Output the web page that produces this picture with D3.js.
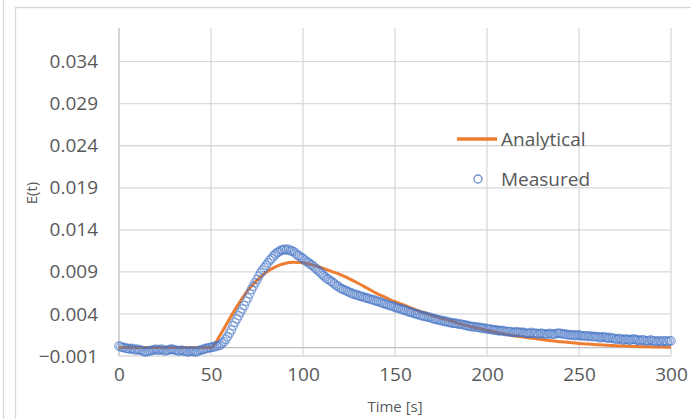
<!DOCTYPE html>
<html>
<head>
<meta charset="utf-8">
<script src="https://cdn.jsdelivr.net/npm/d3@7/dist/d3.min.js"></script>
<style>
    html, body { margin: 0; padding: 0; background: #fff; }
    svg text { font-family: "Open Sans", "Liberation Sans", sans-serif; fill: #595959; }
</style>
</head>
<body>
<div id="chart"></div>
<script>
// 数据 (E(t) 以 0.001 为单位记录)
const xTicks = [0, 50, 100, 150, 200, 250, 300];
const yTicks = [-0.001, 0.004, 0.009, 0.014, 0.019, 0.024, 0.029, 0.034];

// 测量值: t = 0..300 s, 每秒一个点
const measuredTime = d3.range(0, 301);
const measuredMilli = [
    0.2, 0.1, 0.0, 0.0, -0.1, -0.1, -0.2, -0.1, -0.2, -0.3,
    -0.2, -0.3, -0.3, -0.4, -0.5, -0.5, -0.4, -0.4, -0.3, -0.3,
    -0.2, -0.3, -0.3, -0.2, -0.3, -0.4, -0.3, -0.3, -0.2, -0.2,
    -0.3, -0.3, -0.4, -0.4, -0.3, -0.4, -0.4, -0.5, -0.5, -0.4,
    -0.4, -0.5, -0.5, -0.4, -0.3, -0.3, -0.2, -0.1, -0.1, 0.0,
    0.0, 0.1, 0.1, 0.2, 0.2, 0.3, 0.5, 0.7, 1.0, 1.3,
    1.7, 2.1, 2.6, 3.0, 3.4, 3.8, 4.2, 4.6, 5.0, 5.5,
    5.9, 6.4, 6.9, 7.3, 7.7, 8.1, 8.5, 8.9, 9.2, 9.5,
    9.8, 10.1, 10.4, 10.6, 10.9, 11.1, 11.3, 11.4, 11.6, 11.6,
    11.7, 11.6, 11.7, 11.5, 11.5, 11.4, 11.2, 11.0, 10.9, 10.7,
    10.6, 10.4, 10.2, 10.1, 9.9, 9.8, 9.6, 9.4, 9.2, 9.0,
    8.8, 8.6, 8.4, 8.2, 8.1, 7.9, 7.8, 7.6, 7.4, 7.3,
    7.1, 7.0, 6.9, 6.8, 6.7, 6.6, 6.5, 6.4, 6.3, 6.3,
    6.2, 6.1, 6.1, 6.0, 5.9, 5.9, 5.8, 5.7, 5.7, 5.6,
    5.5, 5.5, 5.4, 5.3, 5.2, 5.2, 5.1, 5.0, 5.0, 4.9,
    4.8, 4.7, 4.7, 4.6, 4.5, 4.5, 4.4, 4.3, 4.2, 4.2,
    4.1, 4.0, 4.0, 3.9, 3.8, 3.8, 3.7, 3.7, 3.6, 3.6,
    3.5, 3.4, 3.4, 3.3, 3.3, 3.2, 3.2, 3.1, 3.1, 3.0,
    3.0, 2.9, 2.9, 2.9, 2.8, 2.8, 2.8, 2.7, 2.7, 2.6,
    2.6, 2.5, 2.5, 2.5, 2.4, 2.4, 2.4, 2.3, 2.3, 2.3,
    2.2, 2.2, 2.2, 2.1, 2.1, 2.1, 2.0, 2.0, 2.0, 2.0,
    1.9, 1.9, 1.9, 1.9, 1.8, 1.8, 1.9, 1.8, 1.8, 1.8,
    1.8, 1.7, 1.7, 1.7, 1.8, 1.7, 1.7, 1.7, 1.6, 1.7,
    1.7, 1.6, 1.6, 1.6, 1.7, 1.6, 1.6, 1.6, 1.7, 1.7,
    1.7, 1.6, 1.6, 1.6, 1.5, 1.5, 1.5, 1.5, 1.4, 1.5,
    1.5, 1.4, 1.4, 1.4, 1.4, 1.3, 1.4, 1.3, 1.3, 1.3,
    1.3, 1.2, 1.2, 1.3, 1.2, 1.2, 1.1, 1.2, 1.1, 1.1,
    1.0, 1.0, 1.1, 1.0, 0.9, 1.0, 1.0, 0.9, 0.9, 1.0,
    1.0, 0.9, 0.9, 0.8, 0.9, 0.9, 0.8, 0.8, 0.8, 0.9,
    0.8, 0.8, 0.7, 0.8, 0.8, 0.7, 0.8, 0.8, 0.7, 0.8,
    0.8
];

// 解析解: 每 5 s 一个点
const analyticalTime = [
    0, 5, 10, 15, 20, 25, 30, 35, 40, 45, 50, 55, 60, 65, 70, 75, 80, 85, 90, 95,
    100, 105, 110, 115, 120, 125, 130, 135, 140, 145, 150, 155, 160, 165, 170, 175, 180, 185, 190, 195,
    200, 205, 210, 215, 220, 225, 230, 235, 240, 245, 250, 255, 260, 265, 270, 275, 280, 285, 290, 295, 300
];
const analyticalMilli = [
    0, 0, 0, 0, 0, 0, 0, 0, 0, 0, 0, 1.5, 3.4, 5.2, 6.8, 8.0, 8.95, 9.6, 10.0, 10.15,
    10.1, 9.85, 9.5, 9.1, 8.7, 8.2, 7.65, 7.05, 6.45, 5.95, 5.45, 5.05, 4.6, 4.2, 3.85, 3.5, 3.2, 2.85, 2.55, 2.3,
    2.05, 1.8, 1.6, 1.4, 1.25, 1.1, 0.95, 0.8, 0.7, 0.6, 0.5, 0.42, 0.35, 0.28, 0.23, 0.18, 0.14, 0.1, 0.08, 0.06, 0.05
];

const seriesNames = ['Analytical', 'Measured'];
const colors = { analytical: '#ED7D31', measured: '#4472C4', grid: '#d9d9d9', axis: '#bfbfbf' };

const width = 691, height = 419;
const plot = { left: 119, right: 671, top: 28, bottom: 356 };

const measured = measuredTime.map((t, i) => ({ t, e: measuredMilli[i] / 1000 }));
const analytical = analyticalTime.map((t, i) => ({ t, e: analyticalMilli[i] / 1000 }));

const svg = d3.select('#chart').append('svg')
    .attr('width', width)
    .attr('height', height);

// 图表外框
svg.append('line')
    .attr('x1', 3.5).attr('x2', 3.5).attr('y1', 0).attr('y2', height)
    .attr('stroke', colors.grid).attr('stroke-width', 1.3);
svg.append('path')
    .attr('d', `M15.5,${height} V7.5 H${width}`)
    .attr('fill', 'none')
    .attr('stroke', colors.grid).attr('stroke-width', 1.3);

const x = d3.scaleLinear().domain([0, 300]).range([plot.left, plot.right]);
const y = d3.scaleLinear().domain([-0.001, 0.038]).range([plot.bottom, plot.top]);

// 网格线
const grid = svg.append('g');
grid.selectAll('line.h')
    .data(yTicks)
    .enter().append('line')
    .attr('class', 'h')
    .attr('x1', plot.left).attr('x2', plot.right)
    .attr('y1', d => y(d)).attr('y2', d => y(d))
    .attr('stroke', colors.grid).attr('stroke-width', 1.3);
grid.selectAll('line.v')
    .data(xTicks.slice(1))
    .enter().append('line')
    .attr('class', 'v')
    .attr('x1', d => x(d)).attr('x2', d => x(d))
    .attr('y1', plot.top).attr('y2', plot.bottom)
    .attr('stroke', colors.grid).attr('stroke-width', 1.3);

// 坐标轴线 (横轴在 y = 0)
svg.append('line')
    .attr('x1', x(0)).attr('x2', x(0))
    .attr('y1', plot.top).attr('y2', plot.bottom)
    .attr('stroke', colors.axis).attr('stroke-width', 1.3);
svg.append('line')
    .attr('x1', plot.left).attr('x2', plot.right)
    .attr('y1', y(0)).attr('y2', y(0))
    .attr('stroke', colors.axis).attr('stroke-width', 1.3);

// 刻度标签
const yAxis = d3.axisLeft(y).tickValues(yTicks).tickFormat(d3.format('.3f')).tickSize(0).tickPadding(21);
svg.append('g')
    .attr('transform', `translate(${plot.left},0)`)
    .call(yAxis)
    .call(g => g.select('.domain').remove())
    .selectAll('text')
    .attr('font-size', 19)
    .attr('font-family', '"Open Sans", sans-serif')
    .attr('fill', '#595959');

const xAxis = d3.axisBottom(x).tickValues(xTicks).tickSize(0).tickPadding(12);
svg.append('g')
    .attr('transform', `translate(0,${plot.bottom})`)
    .call(xAxis)
    .call(g => g.select('.domain').remove())
    .selectAll('text')
    .attr('font-size', 19)
    .attr('font-family', '"Open Sans", sans-serif')
    .attr('fill', '#595959');

// 坐标轴标题
svg.append('text')
    .attr('transform', 'translate(37,193) rotate(-90)')
    .attr('text-anchor', 'middle')
    .attr('font-size', 15)
    .text('E(t)');
svg.append('text')
    .attr('x', 395).attr('y', 412)
    .attr('text-anchor', 'middle')
    .attr('font-size', 15)
    .text('Time [s]');

// 解析曲线
const line = d3.line()
    .x(d => x(d.t))
    .y(d => y(d.e))
    .curve(d3.curveMonotoneX);
svg.append('path')
    .datum(analytical)
    .attr('d', line)
    .attr('fill', 'none')
    .attr('stroke', colors.analytical)
    .attr('stroke-width', 3)
    .attr('stroke-linejoin', 'round');

// 测量点
svg.append('g')
    .selectAll('circle')
    .data(measured)
    .enter().append('circle')
    .attr('cx', d => x(d.t))
    .attr('cy', d => y(d.e))
    .attr('r', 4.2)
    .attr('fill', 'none')
    .attr('stroke', colors.measured)
    .attr('stroke-width', 1.4)
    .attr('stroke-opacity', 0.55);

// 图例
const legend = svg.append('g');
legend.append('line')
    .attr('x1', 457).attr('x2', 497)
    .attr('y1', 139).attr('y2', 139)
    .attr('stroke', colors.analytical).attr('stroke-width', 3.5);
legend.append('circle')
    .attr('cx', 478).attr('cy', 179).attr('r', 4)
    .attr('fill', 'none')
    .attr('stroke', colors.measured).attr('stroke-width', 1.3)
    .attr('stroke-opacity', 0.8);
legend.selectAll('text')
    .data(seriesNames)
    .enter().append('text')
    .attr('x', 501)
    .attr('y', (d, i) => 139 + i * 40)
    .attr('dy', '0.35em')
    .attr('font-size', 19)
    .text(d => d);
</script>
</body>
</html>
